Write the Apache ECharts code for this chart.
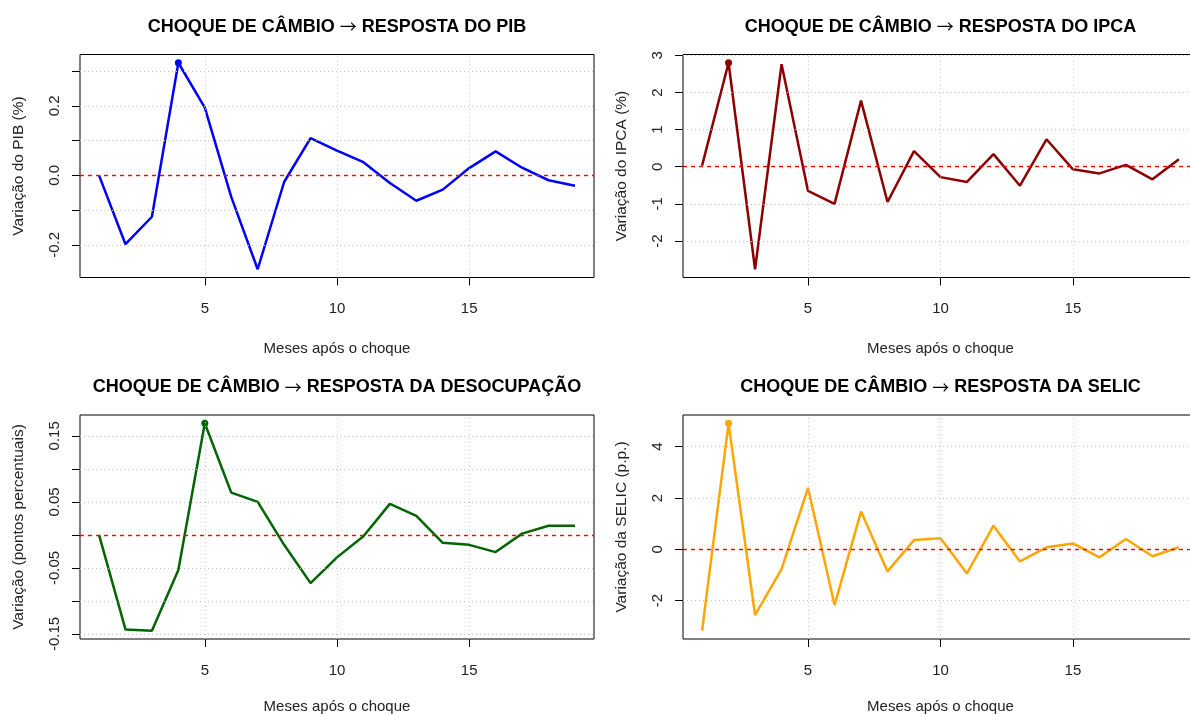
<!DOCTYPE html>
<html>
<head>
<meta charset="utf-8">
<script src="https://cdn.jsdelivr.net/npm/echarts@6/dist/echarts.min.js"></script>
<style>
html,body{margin:0;padding:0;background:#fff;}
#c{width:1190px;height:716px;}
</style>
</head>
<body>
<div id="c"></div>
<script>
// ---- data ----
const meses = [1,2,3,4,5,6,7,8,9,10,11,12,13,14,15,16,17,18,19];
const pib   = [0.000,-0.198,-0.119,0.324,0.195,-0.062,-0.270,-0.019,0.107,0.071,0.038,-0.022,-0.073,-0.041,0.021,0.069,0.022,-0.014,-0.030];
const ipca  = [0.03,2.80,-2.76,2.76,-0.65,-1.00,1.78,-0.95,0.42,-0.28,-0.41,0.34,-0.51,0.74,-0.07,-0.18,0.05,-0.34,0.20];
const desoc = [0.000,-0.143,-0.145,-0.053,0.169,0.064,0.050,-0.015,-0.073,-0.034,-0.002,0.047,0.029,-0.012,-0.015,-0.026,0.002,0.014,0.014];
const selic = [-3.17,4.91,-2.56,-0.77,2.39,-2.17,1.47,-0.86,0.36,0.43,-0.94,0.92,-0.47,0.08,0.23,-0.31,0.40,-0.27,0.08];

const titleStart = 'CHOQUE DE CÂMBIO';
const titleArrow = '→';
const titleEnds = ['RESPOSTA DO PIB','RESPOSTA DO IPCA','RESPOSTA DA DESOCUPAÇÃO','RESPOSTA DA SELIC'];
const yNames = ['Variação do PIB (%)','Variação do IPCA (%)','Variação (pontos percentuais)','Variação da SELIC (p.p.)'];
const xName = 'Meses após o choque';
const xTicks = [5,10,15];
const yTicks = [
  [-0.2,-0.1,0.0,0.1,0.2,0.3],
  [-2,-1,0,1,2,3],
  [-0.15,-0.10,-0.05,0.00,0.05,0.10,0.15],
  [-2,0,2,4]
];
const yLabels = [
  [-0.2,0.0,0.2],
  [-2,-1,0,1,2,3],
  [-0.15,-0.05,0.05,0.15],
  [-2,0,2,4]
];
const yDecimals = [1,0,2,0];
const seriesData = [pib, ipca, desoc, selic];
const colors = ['#0000FF','#8B0000','#006400','#FFA500'];

// ---- layout ----
const grids = [
  {left:80, top:54.5, width:514, height:223},
  {left:683, top:54.5, width:515, height:223},
  {left:80, top:415, width:514, height:224},
  {left:683, top:415, width:515, height:224}
];
const FONT = "'Liberation Sans', Arial, sans-serif";
const GRIDCOL = '#c4c4c4';

function extRange(arr){
  const mn = Math.min.apply(null,arr), mx = Math.max.apply(null,arr);
  const d = (mx-mn)*0.04;
  return [mn-d, mx+d];
}
const xr = extRange(meses);

const series = [];
seriesData.forEach((arr,i)=>{
  // grid lines (behind)
  const gl = {color:GRIDCOL,type:[1,3],width:1};
  series.push({
    type:'line', xAxisIndex:i, yAxisIndex:i, data:[], silent:true, z:1,
    markLine:{
      silent:true, symbol:['none','none'], label:{show:false}, animation:false,
      lineStyle:gl,
      data: xTicks.map(v=>({xAxis:v, lineStyle:gl}))
           .concat(yTicks[i].filter(v=>v!==0).map(v=>({yAxis:v, lineStyle:gl})))
    }
  });
  // zero reference line
  const zl = {color:'#FF0000',type:[4,4],width:1.4};
  series.push({
    type:'line', xAxisIndex:i, yAxisIndex:i, data:[], silent:true, z:2,
    markLine:{
      silent:true, symbol:['none','none'], label:{show:false}, animation:false,
      lineStyle:zl,
      data:[{yAxis:0, lineStyle:zl}]
    }
  });
  const mx = Math.max.apply(null,arr);
  series.push({
    type:'line', xAxisIndex:i, yAxisIndex:i,
    data: meses.map((m,k)=>[m,arr[k]]),
    lineStyle:{color:colors[i],width:2.5},
    itemStyle:{color:colors[i]},
    showSymbol:true,
    symbol:(v)=> v[1]===mx ? 'circle' : 'none',
    symbolSize:(v)=> v[1]===mx ? 7 : 0,
    silent:true, z:3
  });
});

const option = {
  animation:false,
  backgroundColor:'#fff',
  title: titleEnds.map((t,i)=>({
    text: titleStart + ' {a|' + titleArrow + '} ' + t,
    left: grids[i].left + grids[i].width/2,
    top: i<2 ? 18 : 378.5,
    textAlign:'center',
    padding:0,
    textStyle:{fontFamily:FONT,fontSize:18,fontWeight:'bold',color:'#000',
      rich:{a:{fontFamily:"'Noto Sans CJK SC', 'DejaVu Sans'",fontSize:17,fontWeight:'normal',color:'#000'}}}
  })),
  grid: grids.map(g=>Object.assign({show:true,borderColor:'#000',borderWidth:1,backgroundColor:'transparent',containLabel:false,outerBoundsMode:'none'},g)),
  xAxis: grids.map((g,i)=>({
    type:'value', gridIndex:i, min:xr[0], max:xr[1], position:'bottom',
    name:xName, nameLocation:'middle', nameGap: i<2 ? 64 : 60,
    nameTextStyle:{fontFamily:FONT,fontSize:15,color:'#222'},
    axisLine:{show:false,onZero:false},
    axisTick:{show:true,customValues:xTicks,length:8,lineStyle:{color:'#000',width:1}},
    axisLabel:{show:true,customValues:xTicks,margin:24,fontFamily:FONT,fontSize:15,color:'#222'},
    splitLine:{show:false}
  })),
  yAxis: grids.map((g,i)=>{
    const r = extRange(seriesData[i]);
    return {
      type:'value', gridIndex:i, min:r[0], max:r[1], position:'left',
      name:yNames[i], nameLocation:'middle', nameGap:53, nameRotate:90,
      nameTextStyle:{fontFamily:FONT,fontSize:15.5,color:'#222'},
      axisLine:{show:false,onZero:false},
      axisTick:{show:true,customValues:yTicks[i],length:8,lineStyle:{color:'#000',width:1}},
      axisLabel:{show:true,customValues:yLabels[i],rotate:90,margin:18,fontFamily:FONT,fontSize:15,color:'#222',
        formatter:(v)=>Number(v).toFixed(yDecimals[i])},
      splitLine:{show:false}
    };
  }),
  series: series
};
const chart = echarts.init(document.getElementById('c'),null,{renderer:'canvas'});
chart.setOption(option);
</script>
</body>
</html>
